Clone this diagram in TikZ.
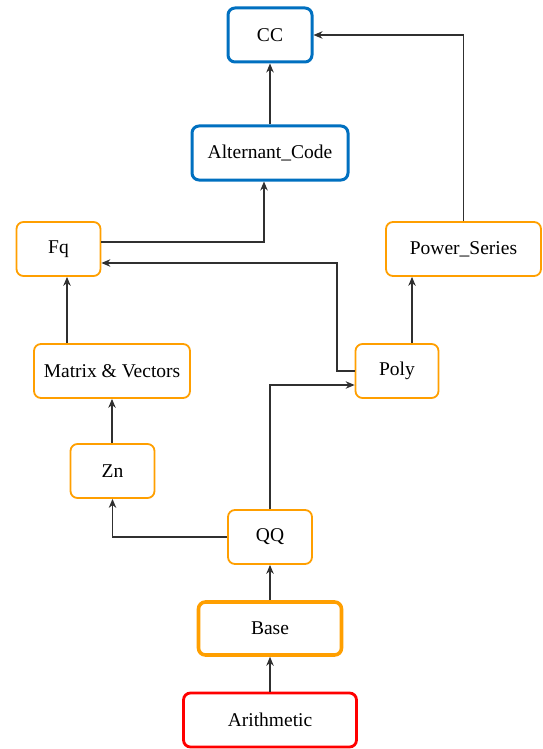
\documentclass[tikz,border=0pt]{standalone}
\usepackage{fontspec}
\setmainfont{Liberation Serif}
\usetikzlibrary{arrows.meta}
\definecolor{boxblue}{HTML}{0070C0}
\definecolor{boxorange}{HTML}{FF9F00}
\definecolor{boxred}{HTML}{FF0000}
\definecolor{wire}{HTML}{303030}
\tikzset{
  box/.style={draw=boxorange, line width=1.8pt, rounded corners=7pt, fill=white,
    inner sep=0pt, font=\fontsize{19.5}{23}\selectfont},
  bluebox/.style={box, draw=boxblue, line width=3pt},
  basebox/.style={box, line width=3.6pt},
  redbox/.style={box, draw=boxred, line width=2.8pt},
  link/.style={draw=wire, line width=1.1pt, -{Stealth[length=9pt,width=7.5pt]}}
}
\begin{document}
\begin{tikzpicture}[x=1pt, y=-1pt]
  \useasboundingbox (0,0) rectangle (542,749);
  % nodes
  \node[bluebox, minimum width=84pt, minimum height=54pt] (cc) at (270,35) {CC};
  \node[bluebox, minimum width=156pt, minimum height=54pt] (alt) at (270,153) {Alternant\_Code};
  \node[box, minimum width=84pt, minimum height=54pt] (fq) at (58.5,249) {Fq};
  \node[box, minimum width=155pt, minimum height=54pt] (pow) at (463.5,249) {Power\_Series};
  \node[box, minimum width=156pt, minimum height=54pt] (mat) at (112,371) {Matrix \& Vectors};
  \node[box, minimum width=83pt, minimum height=54pt] (poly) at (397,371) {Poly};
  \node[box, minimum width=84pt, minimum height=54pt] (zn) at (112.5,471) {Zn};
  \node[box, minimum width=84pt, minimum height=54pt] (qq) at (270,537) {QQ};
  \node[basebox, minimum width=143pt, minimum height=53pt] (base) at (270,628.5) {Base};
  \node[redbox, minimum width=173pt, minimum height=54pt] (arith) at (270,720) {Arithmetic};
  % links
  \draw[link] (alt.north) -- (cc.south);
  \draw[link] (pow.north) |- (cc.east);
  \draw[link] (fq.east |- 0,242) -| (alt.south -| 264,0);
  \draw[link] (poly.west) -- (337,371) |- (fq.east |- 0,263);
  \draw[link] (poly.north -| 412,0) -- (pow.south -| 412,0);
  \draw[link] (mat.north -| 67,0) -- (fq.south -| 67,0);
  \draw[link] (zn.north -| mat.north) -- (mat.south);
  \draw[link] (qq.west) -| (zn.south);
  \draw[link] (qq.north) |- (poly.west |- 0,385);
  \draw[link] (base.north) -- (qq.south);
  \draw[link] (arith.north) -- (base.south);
\end{tikzpicture}
\end{document}
